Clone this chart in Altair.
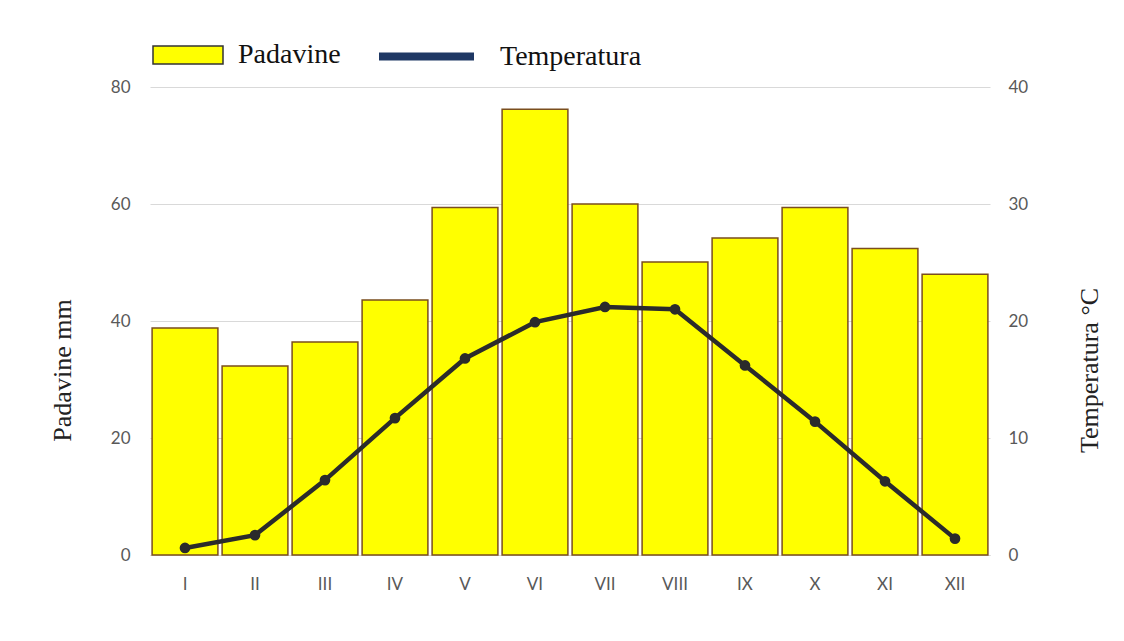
import altair as alt
import pandas as pd

months = ["I", "II", "III", "IV", "V", "VI", "VII", "VIII", "IX", "X", "XI", "XII"]
padavine = [38.8, 32.3, 36.4, 43.6, 59.4, 76.2, 60.0, 50.1, 54.2, 59.4, 52.4, 48.0]
temperatura = [0.6, 1.7, 6.4, 11.7, 16.8, 19.9, 21.2, 21.0, 16.2, 11.4, 6.3, 1.4]

df = pd.DataFrame({"mesec": months, "padavine": padavine, "temp": temperatura})

LABEL_FONT = "Lato"
SERIF = "Liberation Serif"

x_enc = alt.X(
    "mesec:N",
    sort=months,
    scale=alt.Scale(paddingInner=0.06, paddingOuter=0.03),
    axis=alt.Axis(
        title=None, labelAngle=0, labelFont=LABEL_FONT, labelFontSize=17,
        labelColor="#595959", labelPadding=21, ticks=False, domain=True,
        domainColor="#d9d9d9", grid=False,
    ),
)

bars = alt.Chart(df).transform_calculate(s="'Padavine'").mark_bar(
    stroke="#7a4e1e", strokeWidth=1.5
).encode(
    x=x_enc,
    y=alt.Y(
        "padavine:Q",
        scale=alt.Scale(domain=[0, 80]),
        axis=alt.Axis(
            title="Padavine mm", values=[0, 20, 40, 60, 80], labelFont=LABEL_FONT,
            labelFontSize=17, labelColor="#595959", labelPadding=20, ticks=False,
            domain=False, grid=True, gridColor="#d9d9d9", gridWidth=1,
            titleFont=SERIF, titleFontSize=26, titleFontWeight="normal", titleColor="#222",
            titleAngle=-90, titleX=-88, titleY=283, titleAlign="center", titleBaseline="middle",
        ),
    ),
    fill=alt.Fill(
        "s:N",
        scale=alt.Scale(domain=["Padavine"], range=["#ffff00"]),
        legend=alt.Legend(
            title=None, orient="none", legendX=2, legendY=-68,
            symbolType="M-1,-0.26H1V0.26H-1Z", symbolSize=4900,
            symbolStrokeColor="#333333", symbolStrokeWidth=1.5,
            labelFont=SERIF, labelFontSize=28, labelColor="#111", labelOffset=14,
        ),
    ),
)

y_temp = alt.Y(
    "temp:Q",
    scale=alt.Scale(domain=[0, 40]),
    axis=alt.Axis(
        title="Temperatura °C", orient="right", values=[0, 10, 20, 30, 40],
        labelFont=LABEL_FONT, labelFontSize=17, labelColor="#595959", labelPadding=18,
        ticks=False, domain=False, grid=False,
        titleFont=SERIF, titleFontSize=26, titleFontWeight="normal", titleColor="#222",
        titleAngle=-90, titleX=99, titleY=283, titleAlign="center", titleBaseline="middle",
    ),
)

line = alt.Chart(df).mark_line(color="#2b2b2b", strokeWidth=4.5).encode(x=x_enc, y=y_temp)
pts = alt.Chart(df).mark_circle(color="#2b2b2b", size=115, opacity=1).encode(x=x_enc, y=y_temp)

legend_helper = alt.Chart(df).transform_calculate(s="'Temperatura'").mark_line(
    strokeOpacity=0
).encode(
    x=x_enc,
    y=y_temp,
    stroke=alt.Stroke(
        "s:N",
        scale=alt.Scale(domain=["Temperatura"], range=["#1f3864"]),
        legend=alt.Legend(
            title=None, orient="none", legendX=225, legendY=-82,
            symbolType="stroke", symbolSize=9025, symbolStrokeWidth=8, symbolOpacity=1,
            labelFont=SERIF, labelFontSize=28, labelColor="#111", labelOffset=22,
        ),
    ),
)

temp_layer = alt.layer(line, pts, legend_helper)

chart = alt.layer(bars, temp_layer).resolve_scale(
    y="independent", fill="independent", stroke="independent"
).properties(
    width=840, height=468,
    autosize=alt.AutoSizeParams(type="none"),
    padding={"left": 142, "top": 79, "right": 126, "bottom": 78},
    background="white",
).configure_view(stroke=None)

chart.save("out.html", embed_options={"renderer": "svg", "actions": False})
